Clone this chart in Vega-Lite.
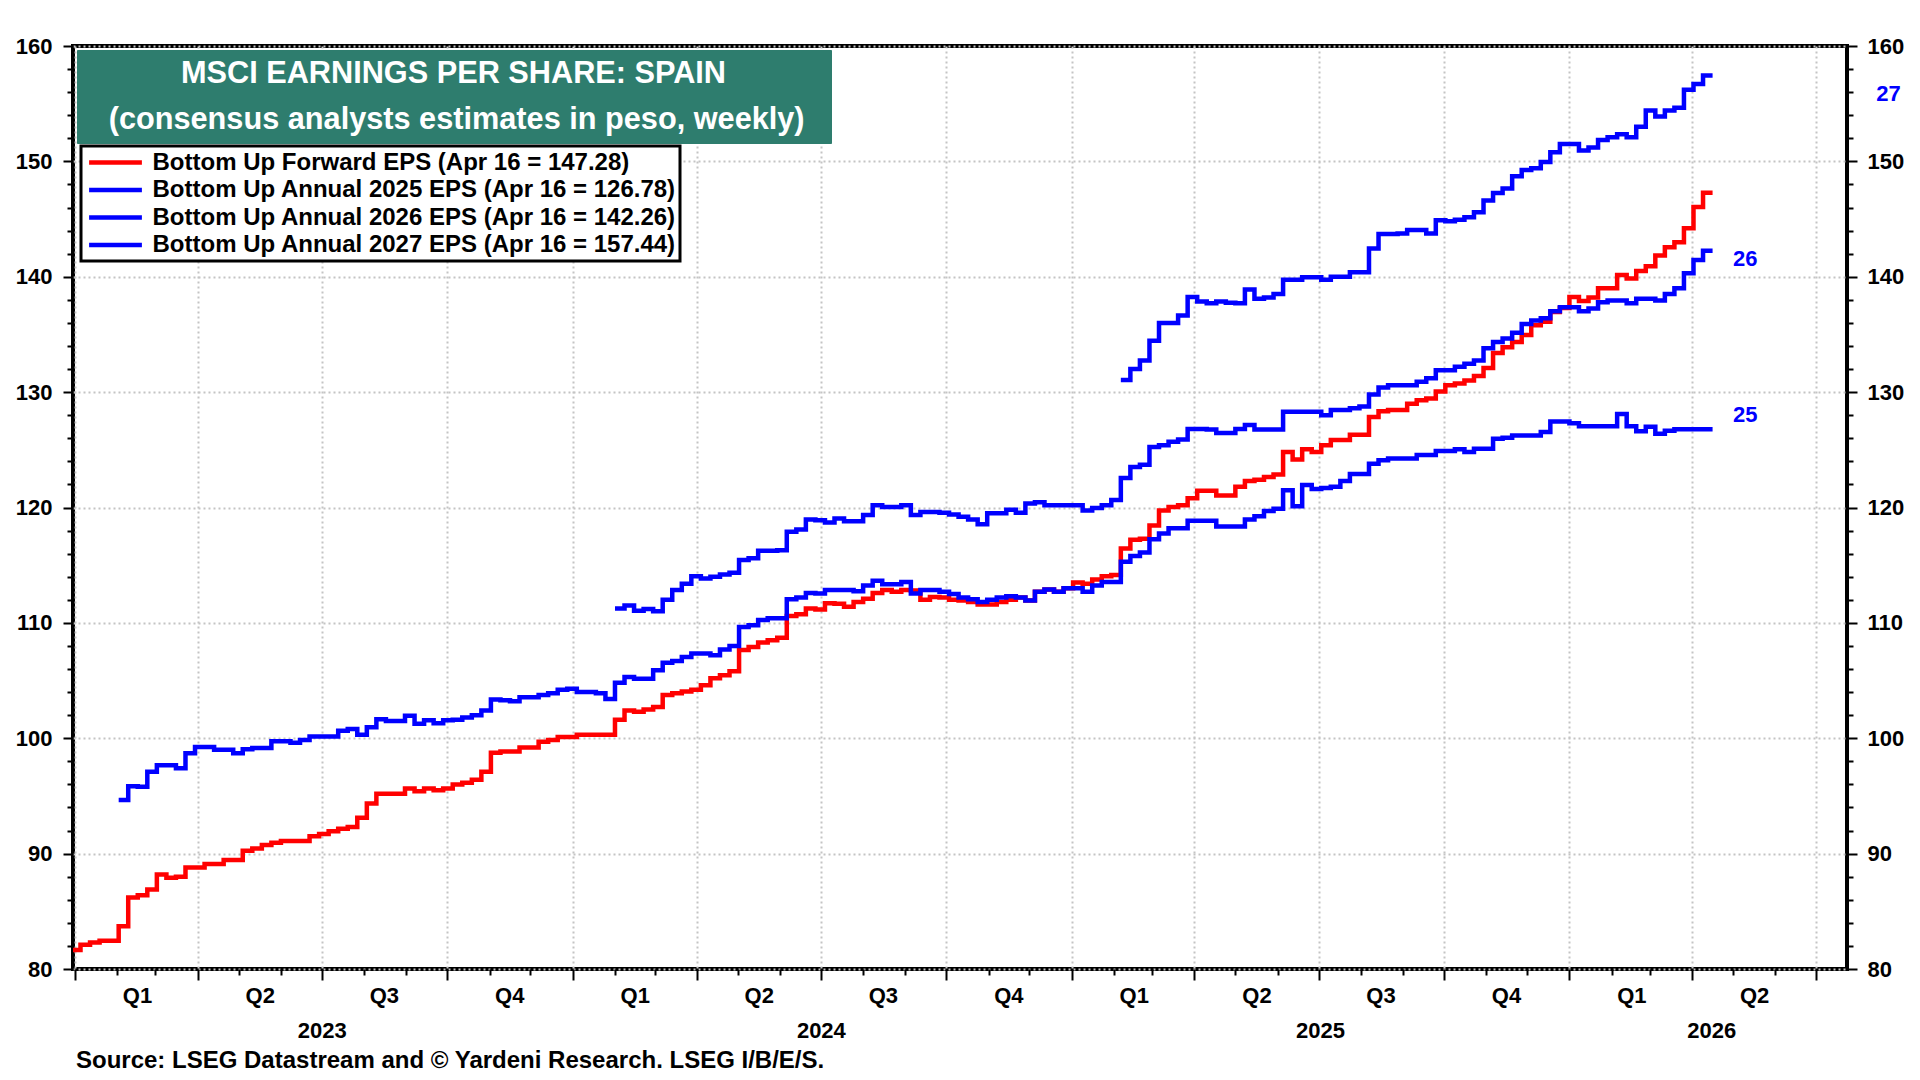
{
  "$schema": "https://vega.github.io/schema/vega-lite/v6.json",
  "width": 1774,
  "height": 923,
  "autosize": {"type": "none"},
  "padding": {"left": 73, "top": 46, "right": 73, "bottom": 111},
  "background": "white",
  "title": {
    "text": "Source: LSEG Datastream and © Yardeni Research. LSEG I/B/E/S.",
    "orient": "bottom", "anchor": "start", "frame": "group", "offset": 8, "dx": 3,
    "font": "Liberation Sans", "fontSize": 24, "fontWeight": "bold", "color": "black"
  },
  "datasets": {
    "series": [
      {"s": "F", "name": "Bottom Up Forward EPS (Apr 16 = 147.28)"},
      {"s": "A25", "name": "Bottom Up Annual 2025 EPS (Apr 16 = 126.78)"},
      {"s": "A26", "name": "Bottom Up Annual 2026 EPS (Apr 16 = 142.26)"},
      {"s": "A27", "name": "Bottom Up Annual 2027 EPS (Apr 16 = 157.44)"}
    ],
    "eps": [
      {"s":"F","d":"2022-12-29","v":81.65},{"s":"F","d":"2023-01-05","v":82.1},{"s":"F","d":"2023-01-12","v":82.3},{"s":"F","d":"2023-01-19","v":82.45},
      {"s":"F","d":"2023-02-02","v":83.7},{"s":"F","d":"2023-02-09","v":86.2},{"s":"F","d":"2023-02-16","v":86.4},{"s":"F","d":"2023-02-23","v":86.9},
      {"s":"F","d":"2023-03-02","v":88.2},{"s":"F","d":"2023-03-09","v":87.9},{"s":"F","d":"2023-03-16","v":88.0},{"s":"F","d":"2023-03-23","v":88.8},
      {"s":"F","d":"2023-04-06","v":89.1},{"s":"F","d":"2023-04-20","v":89.45},{"s":"F","d":"2023-05-04","v":90.25},{"s":"F","d":"2023-05-11","v":90.45},
      {"s":"F","d":"2023-05-18","v":90.75},{"s":"F","d":"2023-05-25","v":90.95},{"s":"F","d":"2023-06-01","v":91.1},{"s":"F","d":"2023-06-22","v":91.5},
      {"s":"F","d":"2023-06-29","v":91.7},{"s":"F","d":"2023-07-06","v":91.95},{"s":"F","d":"2023-07-13","v":92.15},{"s":"F","d":"2023-07-20","v":92.3},
      {"s":"F","d":"2023-07-27","v":93.1},{"s":"F","d":"2023-08-03","v":94.35},{"s":"F","d":"2023-08-10","v":95.2},{"s":"F","d":"2023-08-31","v":95.65},
      {"s":"F","d":"2023-09-07","v":95.4},{"s":"F","d":"2023-09-14","v":95.65},{"s":"F","d":"2023-09-21","v":95.5},{"s":"F","d":"2023-09-28","v":95.65},
      {"s":"F","d":"2023-10-05","v":96.0},{"s":"F","d":"2023-10-12","v":96.15},{"s":"F","d":"2023-10-19","v":96.4},{"s":"F","d":"2023-10-26","v":97.1},
      {"s":"F","d":"2023-11-02","v":98.75},{"s":"F","d":"2023-11-09","v":98.85},{"s":"F","d":"2023-11-23","v":99.2},{"s":"F","d":"2023-12-07","v":99.7},
      {"s":"F","d":"2023-12-14","v":99.85},{"s":"F","d":"2023-12-21","v":100.1},{"s":"F","d":"2024-01-04","v":100.3},{"s":"F","d":"2024-02-01","v":101.6},
      {"s":"F","d":"2024-02-08","v":102.4},{"s":"F","d":"2024-02-15","v":102.3},{"s":"F","d":"2024-02-22","v":102.5},{"s":"F","d":"2024-02-29","v":102.7},
      {"s":"F","d":"2024-03-07","v":103.75},{"s":"F","d":"2024-03-14","v":103.9},{"s":"F","d":"2024-03-21","v":104.05},{"s":"F","d":"2024-03-28","v":104.2},
      {"s":"F","d":"2024-04-04","v":104.6},{"s":"F","d":"2024-04-11","v":105.2},{"s":"F","d":"2024-04-18","v":105.45},{"s":"F","d":"2024-04-25","v":105.8},
      {"s":"F","d":"2024-05-02","v":107.65},{"s":"F","d":"2024-05-09","v":107.9},{"s":"F","d":"2024-05-16","v":108.3},{"s":"F","d":"2024-05-23","v":108.5},
      {"s":"F","d":"2024-05-30","v":108.7},{"s":"F","d":"2024-06-06","v":110.6},{"s":"F","d":"2024-06-13","v":110.75},{"s":"F","d":"2024-06-20","v":111.25},
      {"s":"F","d":"2024-06-27","v":111.15},{"s":"F","d":"2024-07-04","v":111.7},{"s":"F","d":"2024-07-11","v":111.65},{"s":"F","d":"2024-07-18","v":111.4},
      {"s":"F","d":"2024-07-25","v":111.8},{"s":"F","d":"2024-08-01","v":112.1},{"s":"F","d":"2024-08-08","v":112.6},{"s":"F","d":"2024-08-15","v":112.85},
      {"s":"F","d":"2024-08-22","v":112.7},{"s":"F","d":"2024-08-29","v":112.85},{"s":"F","d":"2024-09-05","v":112.8},{"s":"F","d":"2024-09-12","v":112.0},
      {"s":"F","d":"2024-09-19","v":112.25},{"s":"F","d":"2024-09-26","v":112.2},{"s":"F","d":"2024-10-03","v":112.0},{"s":"F","d":"2024-10-10","v":111.95},
      {"s":"F","d":"2024-10-17","v":111.8},{"s":"F","d":"2024-10-24","v":111.6},{"s":"F","d":"2024-11-07","v":111.8},{"s":"F","d":"2024-11-14","v":112.0},
      {"s":"F","d":"2024-11-21","v":112.2},{"s":"F","d":"2024-11-28","v":111.95},{"s":"F","d":"2024-12-05","v":112.7},{"s":"F","d":"2024-12-12","v":112.9},
      {"s":"F","d":"2024-12-19","v":112.7},{"s":"F","d":"2024-12-26","v":113.0},{"s":"F","d":"2025-01-02","v":113.5},{"s":"F","d":"2025-01-09","v":113.4},
      {"s":"F","d":"2025-01-16","v":113.75},{"s":"F","d":"2025-01-23","v":114.05},{"s":"F","d":"2025-01-30","v":114.15},{"s":"F","d":"2025-02-06","v":116.45},
      {"s":"F","d":"2025-02-13","v":117.2},{"s":"F","d":"2025-02-20","v":117.3},{"s":"F","d":"2025-02-27","v":118.45},{"s":"F","d":"2025-03-06","v":119.75},
      {"s":"F","d":"2025-03-13","v":120.05},{"s":"F","d":"2025-03-20","v":120.2},{"s":"F","d":"2025-03-27","v":120.8},{"s":"F","d":"2025-04-03","v":121.45},
      {"s":"F","d":"2025-04-17","v":121.05},{"s":"F","d":"2025-05-01","v":121.8},{"s":"F","d":"2025-05-08","v":122.3},{"s":"F","d":"2025-05-15","v":122.4},
      {"s":"F","d":"2025-05-22","v":122.65},{"s":"F","d":"2025-05-29","v":122.85},{"s":"F","d":"2025-06-05","v":124.8},{"s":"F","d":"2025-06-12","v":124.15},
      {"s":"F","d":"2025-06-19","v":125.05},{"s":"F","d":"2025-06-26","v":124.8},{"s":"F","d":"2025-07-03","v":125.4},{"s":"F","d":"2025-07-10","v":125.85},
      {"s":"F","d":"2025-07-24","v":126.3},{"s":"F","d":"2025-08-07","v":127.85},{"s":"F","d":"2025-08-14","v":128.35},{"s":"F","d":"2025-08-21","v":128.45},
      {"s":"F","d":"2025-09-04","v":129.0},{"s":"F","d":"2025-09-11","v":129.3},{"s":"F","d":"2025-09-18","v":129.45},{"s":"F","d":"2025-09-25","v":130.05},
      {"s":"F","d":"2025-10-02","v":130.6},{"s":"F","d":"2025-10-09","v":130.75},{"s":"F","d":"2025-10-16","v":131.0},{"s":"F","d":"2025-10-23","v":131.4},
      {"s":"F","d":"2025-10-30","v":132.1},{"s":"F","d":"2025-11-06","v":133.4},{"s":"F","d":"2025-11-13","v":133.9},{"s":"F","d":"2025-11-20","v":134.35},
      {"s":"F","d":"2025-11-27","v":134.95},{"s":"F","d":"2025-12-04","v":135.8},{"s":"F","d":"2025-12-11","v":136.1},{"s":"F","d":"2025-12-18","v":136.95},
      {"s":"F","d":"2025-12-25","v":137.3},{"s":"F","d":"2026-01-01","v":138.25},{"s":"F","d":"2026-01-08","v":137.9},{"s":"F","d":"2026-01-15","v":138.2},
      {"s":"F","d":"2026-01-22","v":139.0},{"s":"F","d":"2026-02-05","v":140.15},{"s":"F","d":"2026-02-12","v":139.85},{"s":"F","d":"2026-02-19","v":140.5},
      {"s":"F","d":"2026-02-26","v":140.9},{"s":"F","d":"2026-03-05","v":141.85},{"s":"F","d":"2026-03-12","v":142.55},{"s":"F","d":"2026-03-19","v":143.0},
      {"s":"F","d":"2026-03-26","v":144.2},{"s":"F","d":"2026-04-02","v":146.05},{"s":"F","d":"2026-04-09","v":147.28},{"s":"F","d":"2026-04-16","v":147.28},

      {"s":"A25","d":"2023-02-02","v":94.65},{"s":"A25","d":"2023-02-09","v":95.85},{"s":"A25","d":"2023-02-16","v":95.8},{"s":"A25","d":"2023-02-23","v":97.1},
      {"s":"A25","d":"2023-03-02","v":97.65},{"s":"A25","d":"2023-03-16","v":97.4},{"s":"A25","d":"2023-03-23","v":98.7},{"s":"A25","d":"2023-03-30","v":99.25},
      {"s":"A25","d":"2023-04-13","v":99.0},{"s":"A25","d":"2023-04-27","v":98.7},{"s":"A25","d":"2023-05-04","v":99.05},{"s":"A25","d":"2023-05-11","v":99.15},
      {"s":"A25","d":"2023-05-25","v":99.75},{"s":"A25","d":"2023-06-08","v":99.6},{"s":"A25","d":"2023-06-15","v":99.85},{"s":"A25","d":"2023-06-22","v":100.15},
      {"s":"A25","d":"2023-07-13","v":100.65},{"s":"A25","d":"2023-07-20","v":100.8},{"s":"A25","d":"2023-07-27","v":100.3},{"s":"A25","d":"2023-08-03","v":100.95},
      {"s":"A25","d":"2023-08-10","v":101.65},{"s":"A25","d":"2023-08-17","v":101.5},{"s":"A25","d":"2023-08-31","v":101.95},{"s":"A25","d":"2023-09-07","v":101.25},
      {"s":"A25","d":"2023-09-14","v":101.55},{"s":"A25","d":"2023-09-21","v":101.3},{"s":"A25","d":"2023-09-28","v":101.55},{"s":"A25","d":"2023-10-05","v":101.6},
      {"s":"A25","d":"2023-10-12","v":101.8},{"s":"A25","d":"2023-10-19","v":102.0},{"s":"A25","d":"2023-10-26","v":102.4},{"s":"A25","d":"2023-11-02","v":103.35},
      {"s":"A25","d":"2023-11-09","v":103.3},{"s":"A25","d":"2023-11-16","v":103.2},{"s":"A25","d":"2023-11-23","v":103.55},{"s":"A25","d":"2023-12-07","v":103.75},
      {"s":"A25","d":"2023-12-14","v":103.9},{"s":"A25","d":"2023-12-21","v":104.2},{"s":"A25","d":"2023-12-28","v":104.3},{"s":"A25","d":"2024-01-04","v":104.0},
      {"s":"A25","d":"2024-01-18","v":103.9},{"s":"A25","d":"2024-01-25","v":103.4},{"s":"A25","d":"2024-02-01","v":104.8},{"s":"A25","d":"2024-02-08","v":105.3},
      {"s":"A25","d":"2024-02-15","v":105.15},{"s":"A25","d":"2024-02-29","v":105.9},{"s":"A25","d":"2024-03-07","v":106.55},{"s":"A25","d":"2024-03-14","v":106.7},
      {"s":"A25","d":"2024-03-21","v":107.05},{"s":"A25","d":"2024-03-28","v":107.35},{"s":"A25","d":"2024-04-11","v":107.2},{"s":"A25","d":"2024-04-18","v":107.7},
      {"s":"A25","d":"2024-04-25","v":108.0},{"s":"A25","d":"2024-05-02","v":109.65},{"s":"A25","d":"2024-05-09","v":109.8},{"s":"A25","d":"2024-05-16","v":110.25},
      {"s":"A25","d":"2024-05-23","v":110.4},{"s":"A25","d":"2024-06-06","v":112.05},{"s":"A25","d":"2024-06-13","v":112.2},{"s":"A25","d":"2024-06-20","v":112.6},
      {"s":"A25","d":"2024-06-27","v":112.55},{"s":"A25","d":"2024-07-04","v":112.85},{"s":"A25","d":"2024-07-25","v":112.75},{"s":"A25","d":"2024-08-01","v":113.25},
      {"s":"A25","d":"2024-08-08","v":113.65},{"s":"A25","d":"2024-08-15","v":113.35},{"s":"A25","d":"2024-08-29","v":113.55},{"s":"A25","d":"2024-09-05","v":112.55},
      {"s":"A25","d":"2024-09-12","v":112.85},{"s":"A25","d":"2024-09-26","v":112.7},{"s":"A25","d":"2024-10-03","v":112.5},{"s":"A25","d":"2024-10-10","v":112.2},
      {"s":"A25","d":"2024-10-17","v":112.05},{"s":"A25","d":"2024-10-24","v":111.8},{"s":"A25","d":"2024-10-31","v":112.0},{"s":"A25","d":"2024-11-07","v":112.2},
      {"s":"A25","d":"2024-11-14","v":112.3},{"s":"A25","d":"2024-11-21","v":112.2},{"s":"A25","d":"2024-11-28","v":111.95},{"s":"A25","d":"2024-12-05","v":112.7},
      {"s":"A25","d":"2024-12-12","v":112.9},{"s":"A25","d":"2024-12-19","v":112.7},{"s":"A25","d":"2024-12-26","v":113.0},{"s":"A25","d":"2025-01-09","v":112.7},
      {"s":"A25","d":"2025-01-16","v":113.25},{"s":"A25","d":"2025-01-23","v":113.55},{"s":"A25","d":"2025-02-06","v":115.3},{"s":"A25","d":"2025-02-13","v":115.8},
      {"s":"A25","d":"2025-02-20","v":116.1},{"s":"A25","d":"2025-02-27","v":117.25},{"s":"A25","d":"2025-03-06","v":117.75},{"s":"A25","d":"2025-03-13","v":118.2},
      {"s":"A25","d":"2025-03-27","v":118.85},{"s":"A25","d":"2025-04-17","v":118.35},{"s":"A25","d":"2025-05-08","v":118.95},{"s":"A25","d":"2025-05-15","v":119.25},
      {"s":"A25","d":"2025-05-22","v":119.7},{"s":"A25","d":"2025-05-29","v":119.9},{"s":"A25","d":"2025-06-05","v":121.5},{"s":"A25","d":"2025-06-12","v":120.1},
      {"s":"A25","d":"2025-06-19","v":121.95},{"s":"A25","d":"2025-06-26","v":121.6},{"s":"A25","d":"2025-07-03","v":121.7},{"s":"A25","d":"2025-07-10","v":121.8},
      {"s":"A25","d":"2025-07-17","v":122.3},{"s":"A25","d":"2025-07-24","v":122.9},{"s":"A25","d":"2025-08-07","v":123.8},{"s":"A25","d":"2025-08-14","v":124.1},
      {"s":"A25","d":"2025-08-21","v":124.25},{"s":"A25","d":"2025-09-11","v":124.55},{"s":"A25","d":"2025-09-25","v":124.9},{"s":"A25","d":"2025-10-09","v":125.05},
      {"s":"A25","d":"2025-10-16","v":124.8},{"s":"A25","d":"2025-10-23","v":125.1},{"s":"A25","d":"2025-11-06","v":125.95},{"s":"A25","d":"2025-11-13","v":126.05},
      {"s":"A25","d":"2025-11-20","v":126.25},{"s":"A25","d":"2025-12-11","v":126.55},{"s":"A25","d":"2025-12-18","v":127.45},{"s":"A25","d":"2026-01-01","v":127.3},
      {"s":"A25","d":"2026-01-08","v":127.05},{"s":"A25","d":"2026-02-05","v":128.1},{"s":"A25","d":"2026-02-12","v":127.05},{"s":"A25","d":"2026-02-19","v":126.6},
      {"s":"A25","d":"2026-02-26","v":127.0},{"s":"A25","d":"2026-03-05","v":126.4},{"s":"A25","d":"2026-03-12","v":126.65},{"s":"A25","d":"2026-03-19","v":126.78},
      {"s":"A25","d":"2026-04-16","v":126.78},

      {"s":"A26","d":"2024-02-01","v":111.25},{"s":"A26","d":"2024-02-08","v":111.5},{"s":"A26","d":"2024-02-15","v":111.05},{"s":"A26","d":"2024-02-22","v":111.2},
      {"s":"A26","d":"2024-02-29","v":111.0},{"s":"A26","d":"2024-03-07","v":112.0},{"s":"A26","d":"2024-03-14","v":112.85},{"s":"A26","d":"2024-03-21","v":113.4},
      {"s":"A26","d":"2024-03-28","v":114.05},{"s":"A26","d":"2024-04-04","v":113.85},{"s":"A26","d":"2024-04-11","v":114.0},{"s":"A26","d":"2024-04-18","v":114.2},
      {"s":"A26","d":"2024-04-25","v":114.35},{"s":"A26","d":"2024-05-02","v":115.45},{"s":"A26","d":"2024-05-09","v":115.6},{"s":"A26","d":"2024-05-16","v":116.25},
      {"s":"A26","d":"2024-05-30","v":116.3},{"s":"A26","d":"2024-06-06","v":117.9},{"s":"A26","d":"2024-06-13","v":118.1},{"s":"A26","d":"2024-06-20","v":118.95},
      {"s":"A26","d":"2024-06-27","v":118.9},{"s":"A26","d":"2024-07-04","v":118.7},{"s":"A26","d":"2024-07-11","v":119.05},{"s":"A26","d":"2024-07-18","v":118.8},
      {"s":"A26","d":"2024-08-01","v":119.35},{"s":"A26","d":"2024-08-08","v":120.2},{"s":"A26","d":"2024-08-15","v":120.05},{"s":"A26","d":"2024-08-29","v":120.2},
      {"s":"A26","d":"2024-09-05","v":119.35},{"s":"A26","d":"2024-09-12","v":119.6},{"s":"A26","d":"2024-09-26","v":119.55},{"s":"A26","d":"2024-10-03","v":119.4},
      {"s":"A26","d":"2024-10-10","v":119.2},{"s":"A26","d":"2024-10-17","v":118.95},{"s":"A26","d":"2024-10-24","v":118.55},{"s":"A26","d":"2024-10-31","v":119.5},
      {"s":"A26","d":"2024-11-14","v":119.8},{"s":"A26","d":"2024-11-21","v":119.55},{"s":"A26","d":"2024-11-28","v":120.35},{"s":"A26","d":"2024-12-05","v":120.45},
      {"s":"A26","d":"2024-12-12","v":120.2},{"s":"A26","d":"2025-01-09","v":119.75},{"s":"A26","d":"2025-01-16","v":119.95},{"s":"A26","d":"2025-01-23","v":120.2},
      {"s":"A26","d":"2025-01-30","v":120.65},{"s":"A26","d":"2025-02-06","v":122.55},{"s":"A26","d":"2025-02-13","v":123.5},{"s":"A26","d":"2025-02-20","v":123.7},
      {"s":"A26","d":"2025-02-27","v":125.25},{"s":"A26","d":"2025-03-06","v":125.4},{"s":"A26","d":"2025-03-13","v":125.7},{"s":"A26","d":"2025-03-20","v":125.9},
      {"s":"A26","d":"2025-03-27","v":126.8},{"s":"A26","d":"2025-04-10","v":126.75},{"s":"A26","d":"2025-04-17","v":126.45},{"s":"A26","d":"2025-05-01","v":126.8},
      {"s":"A26","d":"2025-05-08","v":127.15},{"s":"A26","d":"2025-05-15","v":126.75},{"s":"A26","d":"2025-06-05","v":128.3},{"s":"A26","d":"2025-07-03","v":128.0},
      {"s":"A26","d":"2025-07-10","v":128.45},{"s":"A26","d":"2025-07-24","v":128.6},{"s":"A26","d":"2025-07-31","v":128.75},{"s":"A26","d":"2025-08-07","v":129.8},
      {"s":"A26","d":"2025-08-14","v":130.4},{"s":"A26","d":"2025-08-21","v":130.6},{"s":"A26","d":"2025-09-11","v":130.9},{"s":"A26","d":"2025-09-18","v":131.2},
      {"s":"A26","d":"2025-09-25","v":131.9},{"s":"A26","d":"2025-10-09","v":132.2},{"s":"A26","d":"2025-10-16","v":132.45},{"s":"A26","d":"2025-10-23","v":132.75},
      {"s":"A26","d":"2025-10-30","v":133.8},{"s":"A26","d":"2025-11-06","v":134.35},{"s":"A26","d":"2025-11-13","v":134.65},{"s":"A26","d":"2025-11-20","v":135.15},
      {"s":"A26","d":"2025-11-27","v":135.9},{"s":"A26","d":"2025-12-04","v":136.2},{"s":"A26","d":"2025-12-11","v":136.4},{"s":"A26","d":"2025-12-18","v":137.0},
      {"s":"A26","d":"2025-12-25","v":137.35},{"s":"A26","d":"2026-01-08","v":137.0},{"s":"A26","d":"2026-01-15","v":137.25},{"s":"A26","d":"2026-01-22","v":137.8},
      {"s":"A26","d":"2026-01-29","v":137.95},{"s":"A26","d":"2026-02-12","v":137.7},{"s":"A26","d":"2026-02-19","v":138.1},{"s":"A26","d":"2026-03-05","v":137.95},
      {"s":"A26","d":"2026-03-12","v":138.5},{"s":"A26","d":"2026-03-19","v":139.0},{"s":"A26","d":"2026-03-26","v":140.3},{"s":"A26","d":"2026-04-02","v":141.45},
      {"s":"A26","d":"2026-04-09","v":142.26},{"s":"A26","d":"2026-04-16","v":142.26},

      {"s":"A27","d":"2025-02-06","v":131.05},{"s":"A27","d":"2025-02-13","v":132.0},{"s":"A27","d":"2025-02-20","v":132.75},{"s":"A27","d":"2025-02-27","v":134.45},
      {"s":"A27","d":"2025-03-06","v":136.0},{"s":"A27","d":"2025-03-20","v":136.65},{"s":"A27","d":"2025-03-27","v":138.25},{"s":"A27","d":"2025-04-03","v":137.85},
      {"s":"A27","d":"2025-04-10","v":137.7},{"s":"A27","d":"2025-04-17","v":137.85},{"s":"A27","d":"2025-04-24","v":137.75},{"s":"A27","d":"2025-05-01","v":137.7},
      {"s":"A27","d":"2025-05-08","v":138.9},{"s":"A27","d":"2025-05-15","v":138.1},{"s":"A27","d":"2025-05-22","v":138.2},{"s":"A27","d":"2025-05-29","v":138.5},
      {"s":"A27","d":"2025-06-05","v":139.75},{"s":"A27","d":"2025-06-19","v":139.95},{"s":"A27","d":"2025-07-03","v":139.75},{"s":"A27","d":"2025-07-10","v":140.0},
      {"s":"A27","d":"2025-07-24","v":140.4},{"s":"A27","d":"2025-08-07","v":142.45},{"s":"A27","d":"2025-08-14","v":143.7},{"s":"A27","d":"2025-08-28","v":143.75},
      {"s":"A27","d":"2025-09-04","v":144.05},{"s":"A27","d":"2025-09-18","v":143.75},{"s":"A27","d":"2025-09-25","v":144.9},{"s":"A27","d":"2025-10-02","v":144.8},
      {"s":"A27","d":"2025-10-09","v":144.95},{"s":"A27","d":"2025-10-16","v":145.15},{"s":"A27","d":"2025-10-23","v":145.6},{"s":"A27","d":"2025-10-30","v":146.6},
      {"s":"A27","d":"2025-11-06","v":147.25},{"s":"A27","d":"2025-11-13","v":147.65},{"s":"A27","d":"2025-11-20","v":148.7},{"s":"A27","d":"2025-11-27","v":149.25},
      {"s":"A27","d":"2025-12-04","v":149.4},{"s":"A27","d":"2025-12-11","v":149.95},{"s":"A27","d":"2025-12-18","v":150.8},{"s":"A27","d":"2025-12-25","v":151.5},
      {"s":"A27","d":"2026-01-08","v":150.95},{"s":"A27","d":"2026-01-15","v":151.2},{"s":"A27","d":"2026-01-22","v":151.85},{"s":"A27","d":"2026-01-29","v":152.1},
      {"s":"A27","d":"2026-02-05","v":152.35},{"s":"A27","d":"2026-02-12","v":152.1},{"s":"A27","d":"2026-02-19","v":153.0},{"s":"A27","d":"2026-02-26","v":154.4},
      {"s":"A27","d":"2026-03-05","v":153.9},{"s":"A27","d":"2026-03-12","v":154.4},{"s":"A27","d":"2026-03-19","v":154.65},{"s":"A27","d":"2026-03-26","v":156.2},
      {"s":"A27","d":"2026-04-02","v":156.7},{"s":"A27","d":"2026-04-09","v":157.44},{"s":"A27","d":"2026-04-16","v":157.44}
    ]
  },
  "layer": [
    {
      "data": {"name": "eps"},
      "transform": [{"lookup": "s", "from": {"data": {"name": "series"}, "key": "s", "fields": ["name"]}}],
      "mark": {"type": "line", "interpolate": "step-after", "strokeWidth": 4.5, "strokeJoin": "miter", "clip": true},
      "encoding": {
        "x": {
          "field": "d", "type": "temporal",
          "scale": {"type": "utc", "domain": [{"year": 2022, "month": 12, "date": 30, "hours": 12, "utc": true}, {"year": 2026, "month": 7, "date": 23, "hours": 14, "utc": true}]},
          "axis": {
            "orient": "bottom", "title": null, "domain": false,
            "values": [
              {"year":2023,"month":1,"date":1,"utc":true},{"year":2023,"month":2,"date":1,"utc":true},{"year":2023,"month":3,"date":1,"utc":true},
              {"year":2023,"month":4,"date":1,"utc":true},{"year":2023,"month":5,"date":1,"utc":true},{"year":2023,"month":6,"date":1,"utc":true},
              {"year":2023,"month":7,"date":1,"utc":true},{"year":2023,"month":8,"date":1,"utc":true},{"year":2023,"month":9,"date":1,"utc":true},
              {"year":2023,"month":10,"date":1,"utc":true},{"year":2023,"month":11,"date":1,"utc":true},{"year":2023,"month":12,"date":1,"utc":true},
              {"year":2024,"month":1,"date":1,"utc":true},{"year":2024,"month":2,"date":1,"utc":true},{"year":2024,"month":3,"date":1,"utc":true},
              {"year":2024,"month":4,"date":1,"utc":true},{"year":2024,"month":5,"date":1,"utc":true},{"year":2024,"month":6,"date":1,"utc":true},
              {"year":2024,"month":7,"date":1,"utc":true},{"year":2024,"month":8,"date":1,"utc":true},{"year":2024,"month":9,"date":1,"utc":true},
              {"year":2024,"month":10,"date":1,"utc":true},{"year":2024,"month":11,"date":1,"utc":true},{"year":2024,"month":12,"date":1,"utc":true},
              {"year":2025,"month":1,"date":1,"utc":true},{"year":2025,"month":2,"date":1,"utc":true},{"year":2025,"month":3,"date":1,"utc":true},
              {"year":2025,"month":4,"date":1,"utc":true},{"year":2025,"month":5,"date":1,"utc":true},{"year":2025,"month":6,"date":1,"utc":true},
              {"year":2025,"month":7,"date":1,"utc":true},{"year":2025,"month":8,"date":1,"utc":true},{"year":2025,"month":9,"date":1,"utc":true},
              {"year":2025,"month":10,"date":1,"utc":true},{"year":2025,"month":11,"date":1,"utc":true},{"year":2025,"month":12,"date":1,"utc":true},
              {"year":2026,"month":1,"date":1,"utc":true},{"year":2026,"month":2,"date":1,"utc":true},{"year":2026,"month":3,"date":1,"utc":true},
              {"year":2026,"month":4,"date":1,"utc":true},{"year":2026,"month":5,"date":1,"utc":true},{"year":2026,"month":6,"date":1,"utc":true},
              {"year":2026,"month":7,"date":1,"utc":true}
            ],
            "tickSize": {"condition": {"test": "utcmonth(datum.value) % 3 == 0", "value": 11}, "value": 6},
            "tickWidth": 2, "tickColor": "black",
            "grid": true,
            "gridOpacity": {"condition": {"test": "utcmonth(datum.value) % 3 == 0", "value": 1}, "value": 0},
            "gridColor": "#c4c4c4", "gridDash": [2, 3], "gridWidth": 2,
            "labelExpr": "(utcmonth(datum.value) % 3 == 0 && !(utcyear(datum.value) == 2026 && utcmonth(datum.value) == 6)) ? 'Q' + (floor(utcmonth(datum.value) / 3) + 1) : ''",
            "labelOffset": 62, "labelPadding": 5,
            "labelFont": "Liberation Sans", "labelFontSize": 22, "labelFontWeight": "bold", "labelColor": "black",
            "labelOverlap": false, "labelFlush": false, "labelBound": false
          }
        },
        "y": {
          "field": "v", "type": "quantitative",
          "scale": {"domain": [80, 160], "nice": false, "zero": false},
          "axis": {
            "orient": "left", "title": null, "domain": false,
            "values": [80,82,84,86,88,90,92,94,96,98,100,102,104,106,108,110,112,114,116,118,120,122,124,126,128,130,132,134,136,138,140,142,144,146,148,150,152,154,156,158,160],
            "tickSize": {"condition": {"test": "datum.value % 10 == 0", "value": 10}, "value": 6},
            "tickWidth": 2, "tickColor": "black",
            "grid": true,
            "gridOpacity": {"condition": {"test": "datum.value % 10 == 0", "value": 1}, "value": 0},
            "gridColor": "#c4c4c4", "gridDash": [2, 3], "gridWidth": 2,
            "labelExpr": "datum.value % 10 == 0 ? datum.label : ''",
            "labelPadding": 11,
            "labelFont": "Liberation Sans", "labelFontSize": 22, "labelFontWeight": "bold", "labelColor": "black",
            "labelOverlap": false, "labelFlush": false
          }
        },
        "color": {
          "field": "name", "type": "nominal",
          "scale": {
            "domain": ["Bottom Up Forward EPS (Apr 16 = 147.28)", "Bottom Up Annual 2025 EPS (Apr 16 = 126.78)", "Bottom Up Annual 2026 EPS (Apr 16 = 142.26)", "Bottom Up Annual 2027 EPS (Apr 16 = 157.44)"],
            "range": ["#ff0000", "#0000ff", "#0000ff", "#0000ff"]
          },
          "legend": {
            "orient": "none", "legendX": 8, "legendY": 100, "title": null,
            "fillColor": "white", "strokeColor": "black", "padding": 4,
            "symbolType": "M-2.64,0H2.64", "symbolSize": 400, "symbolStrokeWidth": 4.5, "symbolOffset": 18,
            "labelFont": "Liberation Sans", "labelFontSize": 24, "labelFontWeight": "bold", "labelColor": "black",
            "labelOffset": 24.5, "labelLimit": 1000, "rowPadding": 2.5,
            "encode": {"legend": {"update": {"strokeWidth": {"value": 3}}}}
          }
        }
      }
    },
    {
      "data": {"values": [
        {"t": "27", "d": "2026-08-14", "v": 155.8},
        {"t": "26", "d": "2026-05-01", "v": 141.5},
        {"t": "25", "d": "2026-05-01", "v": 128.0}
      ]},
      "mark": {"type": "text", "align": "left", "baseline": "middle", "font": "Liberation Sans", "fontSize": 22, "fontWeight": "bold", "color": "#0000ff"},
      "encoding": {
        "x": {
          "field": "d", "type": "temporal",
          "scale": {"type": "utc", "domain": [{"year": 2022, "month": 12, "date": 30, "hours": 12, "utc": true}, {"year": 2026, "month": 7, "date": 23, "hours": 14, "utc": true}]},
          "axis": {
            "orient": "bottom", "title": null, "domain": false, "ticks": false, "grid": false,
            "values": [
              {"year":2023,"month":7,"date":1,"utc":true},
              {"year":2024,"month":7,"date":1,"utc":true},
              {"year":2025,"month":7,"date":2,"utc":true},
              {"year":2026,"month":4,"date":15,"utc":true}
            ],
            "labelExpr": "'' + utcyear(datum.value)",
            "labelPadding": 51,
            "labelFont": "Liberation Sans", "labelFontSize": 22, "labelFontWeight": "bold", "labelColor": "black",
            "labelOverlap": false, "labelFlush": false, "labelBound": false
          }
        },
        "y": {
          "field": "v", "type": "quantitative",
          "scale": {"domain": [80, 160], "nice": false, "zero": false},
          "axis": {
            "orient": "right", "title": null, "domain": false, "grid": false,
            "values": [80,82,84,86,88,90,92,94,96,98,100,102,104,106,108,110,112,114,116,118,120,122,124,126,128,130,132,134,136,138,140,142,144,146,148,150,152,154,156,158,160],
            "tickSize": {"condition": {"test": "datum.value % 10 == 0", "value": 10}, "value": 6},
            "tickWidth": 2, "tickColor": "black",
            "labelExpr": "datum.value % 10 == 0 ? datum.label : ''",
            "labelPadding": 10,
            "labelFont": "Liberation Sans", "labelFontSize": 22, "labelFontWeight": "bold", "labelColor": "black",
            "labelOverlap": false, "labelFlush": false
          }
        },
        "text": {"field": "t", "type": "nominal"}
      }
    },
    {
      "data": {"values": [{"note": "(consensus analysts estimates in peso, weekly)"}]},
      "mark": {"type": "point", "opacity": 0},
      "encoding": {
        "shape": {
          "field": "note", "type": "nominal",
          "legend": {
            "orient": "none", "legendX": 4, "legendY": 4,
            "title": "MSCI EARNINGS PER SHARE: SPAIN",
            "titleFont": "Liberation Sans", "titleFontSize": 30.7, "titleFontWeight": "bold", "titleColor": "white",
            "titleAnchor": "middle", "titleLimit": 1000, "titlePadding": 15,
            "fillColor": "#2E7D6E", "strokeColor": "#2E7D6E", "padding": 8.5,
            "symbolOpacity": 0, "symbolSize": 4, "symbolType": "circle", "symbolOffset": 720,
            "labelFont": "Liberation Sans", "labelFontSize": 30.7, "labelFontWeight": "bold", "labelColor": "white",
            "labelOffset": -727.5, "labelLimit": 1000
          }
        }
      }
    }
  ],
  "resolve": {"axis": {"x": "independent", "y": "independent"}},
  "config": {
    "view": {"stroke": "black", "strokeWidth": 4, "fill": "white"},
    "font": "Liberation Sans"
  }
}
